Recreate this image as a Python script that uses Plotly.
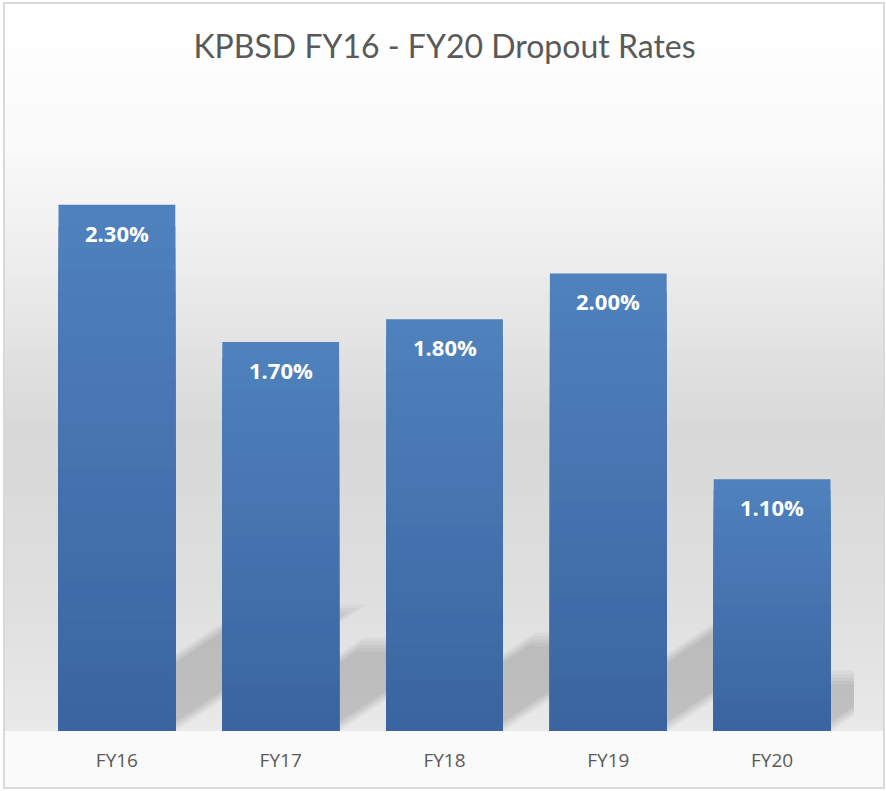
import plotly.graph_objects as go

categories = ["FY16", "FY17", "FY18", "FY19", "FY20"]
rates = [2.30, 1.70, 1.80, 2.00, 1.10]
rate_labels = ["2.30%", "1.70%", "1.80%", "2.00%", "1.10%"]

W, H = 886, 791
ML, MR, MT, MB = 35, 32, 159, 60
ymax = 2.5
bargap = 0.287


def lerp(c1, c2, t):
    return tuple(round(a + (b - a) * t) for a, b in zip(c1, c2))


def hexrgb(h):
    h = h.lstrip("#")
    return tuple(int(h[i:i + 2], 16) for i in (0, 2, 4))


def rgb(c):
    return "rgb(%d,%d,%d)" % c


# pixel -> paper coords
def px(x):
    return (x - ML) / (W - ML - MR)


def py(y):
    return (H - MB - y) / (H - MT - MB)


# background gradient stops (pixel y, colour)
stops = [(4, "#ffffff"), (150, "#fafafa"), (260, "#ededed"), (430, "#d8d8d8"),
         (600, "#dfdfdf"), (731, "#e9e9e9")]


def bg_color(y):
    for (y0, c0), (y1, c1) in zip(stops, stops[1:]):
        if y0 <= y <= y1:
            return lerp(hexrgb(c0), hexrgb(c1), (y - y0) / (y1 - y0))
    return hexrgb(stops[-1][1])


shapes = []
n = 80
for i in range(n):
    y0 = 4 + (731 - 4) * i / n
    y1 = 4 + (731 - 4) * (i + 1) / n
    shapes.append(dict(type="rect", xref="paper", yref="paper", layer="below",
                       x0=px(5), x1=px(883), y0=py(min(y1 + 2, 731)), y1=py(y0),
                       fillcolor=rgb(bg_color((y0 + y1) / 2)), line=dict(width=0)))
shapes.append(dict(type="rect", xref="paper", yref="paper", layer="below",
                   x0=px(5), x1=px(883), y0=py(787), y1=py(731),
                   fillcolor="#fafafa", line=dict(width=0)))

# soft perspective shadows cast up and to the right of each bar
cat_px = (W - ML - MR) / len(categories)
y_px = (H - MT - MB) / ymax
hw = (1 - bargap) / 2
for i, v in enumerate(rates):
    dy_px = 0.24 * v * y_px
    for k in range(5):
        s = k * 3.5
        sx = s / cat_px
        top = (dy_px - s) / y_px
        shift = (dy_px - s) / 0.66 / cat_px
        xl, xr = i - hw + sx, i + hw - sx
        path = "M %f,0 L %f,0 L %f,%f L %f,%f Z" % (
            xl, xr, xr + shift, top, xl + shift, top)
        shapes.append(dict(type="path", path=path, xref="x", yref="y", layer="below",
                           fillcolor="rgba(0,0,0,0.036)", line=dict(width=0)))

# chart border
shapes.append(dict(type="rect", xref="paper", yref="paper", layer="above",
                   x0=px(4), x1=px(884), y0=py(788), y1=py(3),
                   fillcolor="rgba(0,0,0,0)", line=dict(color="#d9d9d9", width=2)))

fig = go.Figure()

# bars with vertical gradient: stacked overlays getting darker toward the base
top_c = hexrgb("#4f81bd")
bot_c = hexrgb("#3a65a0")
steps = 24
for k in range(steps):
    frac = 1 - k / steps
    fig.add_trace(go.Bar(
        x=categories, y=[v * frac for v in rates],
        marker=dict(color=rgb(lerp(top_c, bot_c, k / (steps - 1))), line=dict(width=0)),
        hoverinfo="skip", showlegend=False,
    ))

for c, v, t in zip(categories, rates, rate_labels):
    fig.add_annotation(x=c, y=v, text="<b>%s</b>" % t, showarrow=False,
                       yanchor="middle", yshift=-28,
                       font=dict(family="Open Sans", size=22, color="white"))

fig.update_layout(
    width=W, height=H,
    margin=dict(l=ML, r=MR, t=MT, b=MB),
    paper_bgcolor="white", plot_bgcolor="rgba(0,0,0,0)",
    barmode="overlay", bargap=bargap,
    title=dict(text="KPBSD FY16 - FY20 Dropout Rates", x=0.5, xref="paper",
               y=1 - 47 / H, yanchor="middle",
               font=dict(family="Lato", size=32, color="#595959")),
    xaxis=dict(showgrid=False, showline=False, zeroline=False,
               range=[-0.5, len(categories) - 0.5],
               ticks="outside", ticklen=12, tickcolor="rgba(0,0,0,0)",
               tickfont=dict(family="Open Sans", size=19, color="#595959")),
    yaxis=dict(range=[0, ymax], visible=False, showgrid=False, zeroline=False),
    shapes=shapes,
)

fig.write_html("out.html", config={"displayModeBar": False},
               post_script="document.body.style.margin='0';")
